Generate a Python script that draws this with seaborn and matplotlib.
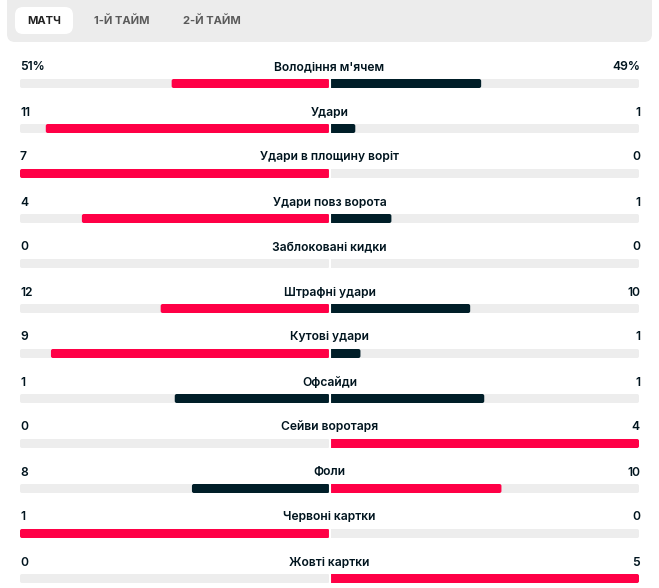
import pandas as pd
import matplotlib
matplotlib.use("Agg")
import matplotlib.pyplot as plt
from matplotlib.patches import FancyBboxPatch
import seaborn as sns

# match stats (home left, away right)
stat_names = ["Володіння м'ячем", "Удари", "Удари в площину воріт", "Удари повз ворота",
              "Заблоковані кидки", "Штрафні удари", "Кутові удари", "Офсайди",
              "Сейви воротаря", "Фоли", "Червоні картки", "Жовті картки"]
home_values = [51, 11, 7, 4, 0, 12, 9, 1, 0, 8, 1, 0]
away_values = [49, 1, 0, 1, 0, 10, 1, 1, 4, 10, 0, 5]
home_labels = ["51%", "11", "7", "4", "0", "12", "9", "1", "0", "8", "1", "0"]
away_labels = ["49%", "1", "0", "1", "0", "10", "1", "1", "4", "10", "0", "5"]
tab_labels = ["МАТЧ", "1-Й ТАЙМ", "2-Й ТАЙМ"]

RED = "#ff0046"
DARK = "#001e28"
TRACK = "#ededed"
TEXT = "#00141e"

rows = []
for name, h, a in zip(stat_names, home_values, away_values):
    tot = h + a
    hf = h / tot if tot else 0
    af = a / tot if tot else 0
    rows.append({"stat": name, "side": "home", "val": -hf, "col": "red" if h > a else "dark"})
    rows.append({"stat": name, "side": "away", "val": af, "col": "red" if a > h else "dark"})
df = pd.DataFrame(rows)

# pixel mapping for the bar axes: x -1..1 -> 20..639 px, row pitch 45 px, first bar at y=83.5
W, H = 659, 588
cx, half = 329.5, 309.5
y0, pitch = 83.5, 45.0

fig = plt.figure(figsize=(W / 100, H / 100), dpi=100)
ax = fig.add_axes([0, 0, 1, 1])
bar_h = 9 / pitch

# background track, one call per side
for side in [-1, 1]:
    track = pd.DataFrame({"stat": stat_names, "val": [side] * len(stat_names)})
    sns.barplot(data=track, x="val", y="stat", order=stat_names, color=TRACK,
                width=bar_h, orient="h", ax=ax, errorbar=None, saturation=1, linewidth=0)
for side in ["home", "away"]:
    sns.barplot(data=df[df.side == side], x="val", y="stat", hue="col", order=stat_names,
                palette={"red": RED, "dark": DARK}, width=bar_h, orient="h", ax=ax,
                errorbar=None, saturation=1, linewidth=0, legend=False, dodge=False)

# slightly rounded bar ends (2 px)
r = 2 / half
for p in list(ax.patches):
    x, y, w, h = p.get_x(), p.get_y(), p.get_width(), p.get_height()
    if w == 0:
        p.remove()
        continue
    x0, x1 = min(x, x + w), max(x, x + w)
    fb = FancyBboxPatch((x0, y), x1 - x0, h, boxstyle=f"round,pad=0,rounding_size={r}",
                        mutation_aspect=half / pitch, fc=p.get_facecolor(), ec="none",
                        zorder=p.get_zorder())
    p.remove()
    ax.add_patch(fb)
ax.axvline(0, color="white", lw=1.5, zorder=5)

ax.set_xlim((0 - cx) / half, (W - cx) / half)
ax.set_ylim((H - y0) / pitch, (0 - y0) / pitch)
ax.axis("off")

# overlay in pixel coordinates for text and tabs
ov = fig.add_axes([0, 0, 1, 1], facecolor="none")
ov.set_xlim(0, W)
ov.set_ylim(H, 0)
ov.axis("off")

ov.add_patch(FancyBboxPatch((7, -20), 645, 62, boxstyle="round,pad=0,rounding_size=8",
                            fc="#ececec", ec="none"))
ov.add_patch(FancyBboxPatch((15, 7), 58, 27, boxstyle="round,pad=0,rounding_size=8",
                            fc="white", ec="none"))
for lab, x, c in zip(tab_labels, [44.5, 122, 212], ["#222222", "#5a5a5a", "#5a5a5a"]):
    ov.text(x, 21, lab, ha="center", va="center", fontsize=8, fontweight="bold",
            color=c, family="Inter")

for i, name in enumerate(stat_names):
    ty = y0 + i * pitch - 16
    ov.text(cx, ty, name, ha="center", va="center", fontsize=8.7, color=TEXT,
            family="Inter", fontweight=600)
    ov.text(20, ty, home_labels[i], ha="left", va="center", fontsize=8.7, color=TEXT,
            family="Inter", fontweight=600)
    ov.text(640, ty, away_labels[i], ha="right", va="center", fontsize=8.7, color=TEXT,
            family="Inter", fontweight=600)

fig.savefig("out.png", dpi=100, facecolor="white")
